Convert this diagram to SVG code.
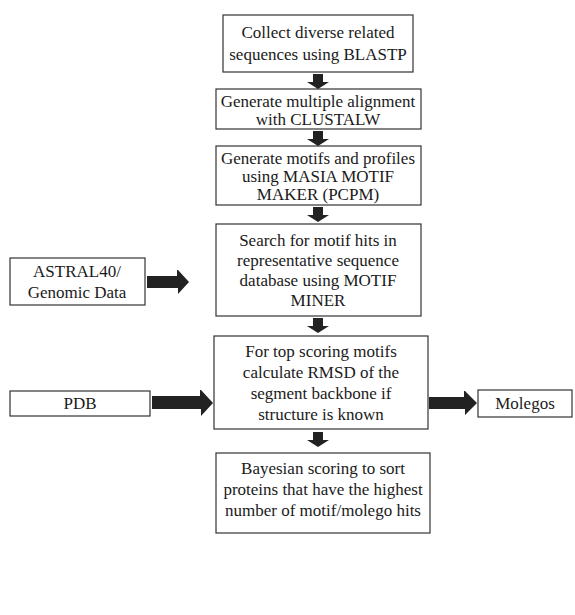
<svg xmlns="http://www.w3.org/2000/svg" width="575" height="615" viewBox="0 0 575 615">
<style>
.box{fill:#fff;stroke:#333;stroke-width:1.2}
text{font-family:"Liberation Serif","Times New Roman",serif;font-size:17px;fill:#1a1a1a;text-anchor:middle}
.arr{fill:#222;stroke:none}
</style>
<defs>
<path id="down" class="arr" d="M-5,0 H5 V8 H11 L0,15 L-11,8 H-5 Z"/>
</defs>
<rect width="575" height="615" fill="#fff"/>
<g id="n1"><rect class="box" x="223" y="15" width="190" height="57"/>
<text x="318" y="38">Collect diverse related</text><text x="318" y="60">sequences using BLASTP</text></g>
<g id="n2"><rect class="box" x="216" y="89" width="205" height="40"/>
<text x="318" y="107">Generate multiple alignment</text><text x="318" y="125">with CLUSTALW</text></g>
<g id="n3"><rect class="box" x="216" y="146" width="205" height="59"/>
<text x="318" y="164">Generate motifs and profiles</text><text x="318" y="182">using MASIA MOTIF</text><text x="318" y="200">MAKER (PCPM)</text></g>
<g id="n4"><rect class="box" x="216" y="224" width="205" height="92"/>
<text x="318" y="246">Search for motif hits in</text><text x="318" y="266">representative sequence</text><text x="318" y="286">database using MOTIF</text><text x="318" y="306">MINER</text></g>
<g id="n5"><rect class="box" x="10" y="258" width="135" height="47"/>
<text x="77" y="277">ASTRAL40/</text><text x="77" y="298">Genomic Data</text></g>
<g id="n6"><rect class="box" x="214" y="336" width="214" height="93"/>
<text x="321" y="357">For top scoring motifs</text><text x="321" y="378">calculate RMSD of the</text><text x="321" y="399">segment backbone if</text><text x="321" y="420">structure is known</text></g>
<g id="n7"><rect class="box" x="10" y="391" width="140" height="25"/>
<text x="80" y="409">PDB</text></g>
<g id="n8"><rect class="box" x="478" y="390" width="94" height="27"/>
<text x="525" y="409">Molegos</text></g>
<g id="n9"><rect class="box" x="216" y="453" width="214" height="80"/>
<text x="323" y="474">Bayesian scoring to sort</text><text x="323" y="495">proteins that have the highest</text><text x="323" y="516">number of motif/molego hits</text></g>
<g id="connectors">
<use href="#down" x="318" y="74"/>
<use href="#down" x="318" y="131"/>
<use href="#down" x="318" y="207"/>
<use href="#down" x="318" y="318"/>
<use href="#down" x="318" y="432"/>
<path class="arr" d="M147,276 H177 V270 H178 L189,282 L178,294 V288 H147 Z"/>
<path class="arr" d="M152,396 H200 V390 H201 L213,403 L201,416 V409 H152 Z"/>
<path class="arr" d="M429,397 H464 V391 H465 L477,403 L465,415 V409 H429 Z"/>
</g>
</svg>
